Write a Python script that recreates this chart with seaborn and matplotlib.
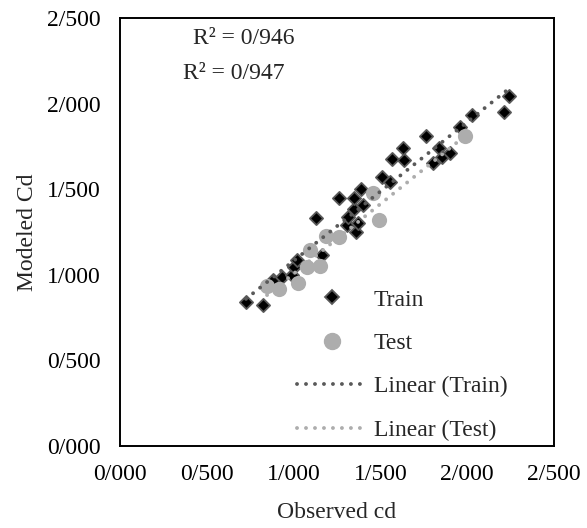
import matplotlib
matplotlib.use("Agg")
import matplotlib.pyplot as plt
import matplotlib.ticker as mticker
from matplotlib.lines import Line2D
import seaborn as sns
import pandas as pd

# observed / modeled values
train_observed = [0.726, 0.824, 0.881, 0.933, 0.991, 1.002, 1.020, 1.164, 1.129, 1.308,
                  1.359, 1.371, 1.313, 1.348, 1.400, 1.348, 1.261, 1.388, 1.509, 1.555,
                  1.567, 1.636, 1.630, 1.763, 1.838, 1.855, 1.901, 1.803, 1.959, 2.028,
                  2.212, 2.241]
train_modeled = [0.841, 0.824, 0.970, 0.987, 0.999, 1.046, 1.086, 1.116, 1.332, 1.291,
                 1.250, 1.303, 1.338, 1.384, 1.408, 1.449, 1.449, 1.501, 1.571, 1.542,
                 1.676, 1.671, 1.741, 1.811, 1.741, 1.688, 1.711, 1.653, 1.863, 1.933,
                 1.951, 2.044]

test_observed = [0.847, 0.916, 1.025, 1.077, 1.152, 1.094, 1.187, 1.261, 1.457, 1.492, 1.987]
test_modeled = [0.935, 0.917, 0.952, 1.046, 1.051, 1.145, 1.227, 1.221, 1.478, 1.320, 1.811]

r2_labels = ["R\u00b2 = 0/946", "R\u00b2 = 0/947"]
legend_labels = ["Train", "Test", "Linear (Train)", "Linear (Test)"]
axis_ticks = [0.0, 0.5, 1.0, 1.5, 2.0, 2.5]

train_df = pd.DataFrame({"observed": train_observed, "modeled": train_modeled})
test_df = pd.DataFrame({"observed": test_observed, "modeled": test_modeled})

sns.set_style("white")
plt.rcParams["font.family"] = ["Liberation Serif", "DejaVu Serif"]
plt.rcParams["font.size"] = 17

train_color = "#595959"
test_color = "#ADADAD"
dots = (0, (0.01, 2.3))

fig = plt.figure(figsize=(5.87, 5.28), dpi=100)
ax = fig.add_axes([120 / 587, 82 / 528, 434 / 587, 428 / 528])

sns.scatterplot(data=train_df, x="observed", y="modeled", marker="D", s=45,
                color="black", edgecolor=train_color, linewidth=1.3, zorder=2, ax=ax)
sns.scatterplot(data=test_df, x="observed", y="modeled", marker="o", s=120,
                color=test_color, edgecolor=test_color, linewidth=0, zorder=3, ax=ax)

# trendlines over the data range (like excel)
sns.regplot(data=train_df, x="observed", y="modeled", scatter=False, ci=None, truncate=True,
            line_kws={"color": train_color, "linestyle": dots, "linewidth": 2.8,
                      "dash_capstyle": "round", "zorder": 4}, ax=ax)
sns.regplot(data=test_df, x="observed", y="modeled", scatter=False, ci=None, truncate=True,
            line_kws={"color": test_color, "linestyle": dots, "linewidth": 2.8,
                      "dash_capstyle": "round", "zorder": 4}, ax=ax)

ax.set_xlim(axis_ticks[0], axis_ticks[-1])
ax.set_ylim(axis_ticks[0], axis_ticks[-1])
ax.set_xticks(axis_ticks)
ax.set_yticks(axis_ticks)
fmt = mticker.FuncFormatter(lambda v, pos: f"{v:.3f}".replace(".", "/"))
ax.xaxis.set_major_formatter(fmt)
ax.yaxis.set_major_formatter(fmt)
ax.tick_params(axis="both", length=0, labelsize=17, colors="black")
ax.tick_params(axis="x", pad=13)
ax.tick_params(axis="y", pad=14)

for spine in ax.spines.values():
    spine.set_visible(True)
    spine.set_color("black")
    spine.set_linewidth(1.4)

ax.set_xlabel("Observed cd", fontsize=17)
ax.set_ylabel("Modeled Cd", fontsize=17)
ax.xaxis.set_label_coords(0.5, -0.13)
ax.yaxis.set_label_coords(-0.19, 0.5)

ax.text((193 - 120) / 434, (446 - 38) / 428, r2_labels[0], transform=ax.transAxes,
        ha="left", va="center", fontsize=17)
ax.text((183 - 120) / 434, (446 - 73) / 428, r2_labels[1], transform=ax.transAxes,
        ha="left", va="center", fontsize=17)

handles = [
    Line2D([], [], linestyle="none", marker="D", markersize=7.5, markerfacecolor="black",
           markeredgecolor=train_color, markeredgewidth=1.3),
    Line2D([], [], linestyle="none", marker="o", markersize=11.5, markerfacecolor=test_color,
           markeredgecolor=test_color),
    Line2D([], [], color=train_color, linestyle=dots, linewidth=2.8, dash_capstyle="round"),
    Line2D([], [], color=test_color, linestyle=dots, linewidth=2.8, dash_capstyle="round"),
]
ax.legend(handles, legend_labels, loc="upper left",
          bbox_to_anchor=((297 - 120) / 434, (446 - 289) / 428),
          frameon=False, borderpad=0, borderaxespad=0, handlelength=2.95,
          handletextpad=0.3, labelspacing=0.93, fontsize=17)

fig.savefig("out.png", dpi=100)
